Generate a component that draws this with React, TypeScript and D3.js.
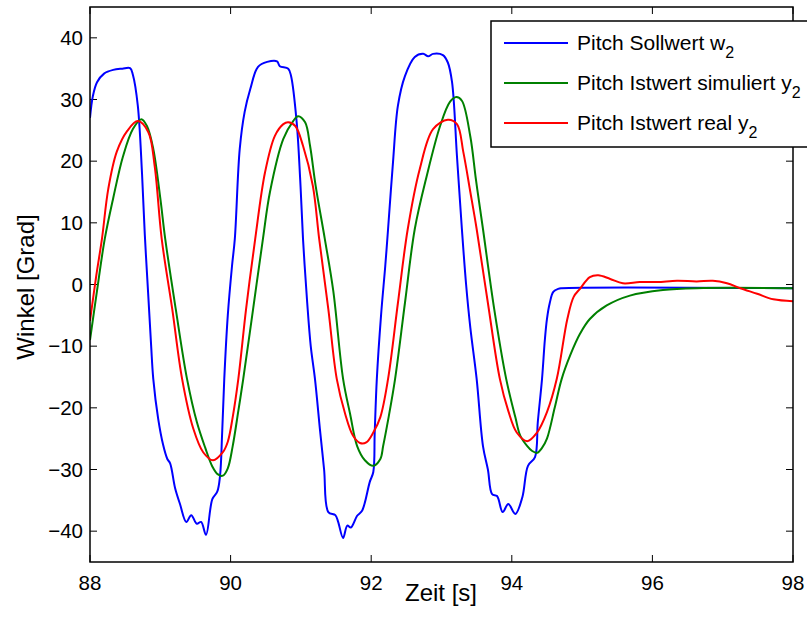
import React from "react";
import * as d3 from "d3";

// ---- data ----
const xTicks = [88, 90, 92, 94, 96, 98];
const yTicks = [-40, -30, -20, -10, 0, 10, 20, 30, 40];

const sollTime = [88.0, 88.04, 88.1, 88.2, 88.33, 88.46, 88.57, 88.61, 88.68, 88.74, 88.78, 88.83, 88.87, 88.9, 88.97, 89.04, 89.1, 89.14, 89.21, 89.28, 89.37, 89.44, 89.52, 89.58, 89.65, 89.74, 89.81, 89.85, 89.88, 89.91, 89.96, 90.02, 90.06, 90.13, 90.2, 90.28, 90.39, 90.52, 90.66, 90.7, 90.82, 90.86, 90.94, 90.99, 91.03, 91.09, 91.14, 91.2, 91.27, 91.33, 91.39, 91.49, 91.53, 91.6, 91.66, 91.71, 91.8, 91.87, 91.98, 92.03, 92.05, 92.08, 92.14, 92.2, 92.24, 92.31, 92.38, 92.48, 92.62, 92.74, 92.81, 92.88, 93.02, 93.09, 93.15, 93.22, 93.29, 93.35, 93.41, 93.5, 93.59, 93.66, 93.72, 93.79, 93.87, 93.95, 94.05, 94.15, 94.23, 94.33, 94.37, 94.43, 94.47, 94.5, 94.54, 94.59, 94.66, 94.71, 98.0];
const sollValue = [27, 30.5, 32.8, 34.2, 34.8, 35, 35.1, 34, 29, 18, 8, -2, -10, -15.3, -21.8, -26, -28.3, -29, -33, -35.6, -38.5, -37.4, -38.8, -38.5, -40.6, -34.8, -33.6, -31, -24, -15.3, -5, 3, 7.4, 22, 28, 31.7, 35.3, 36.1, 36.2, 35.4, 35, 33.8, 26.3, 17, 7.4, -3, -10, -15.3, -23.4, -30, -36.9, -37.4, -38.5, -41.1, -39.1, -39.4, -37.5, -36.7, -32, -30.4, -24, -15.3, -5, 3, 9, 19.8, 29, 33.8, 36.9, 37.4, 37, 37.4, 37.2, 36, 32.8, 20.8, 9, 0, -7, -15.3, -26.2, -30, -34, -34.3, -36.9, -35.6, -37.2, -34.5, -29.4, -28, -22.3, -15.3, -9, -5.6, -3, -1.2, -0.7, -0.6, -0.6];

const simTime = [88.0, 88.1, 88.21, 88.33, 88.47, 88.61, 88.73, 88.81, 88.9, 89.0, 89.07, 89.22, 89.38, 89.52, 89.64, 89.74, 89.82, 89.89, 89.96, 90.03, 90.11, 90.18, 90.32, 90.46, 90.56, 90.75, 90.89, 90.96, 91.06, 91.13, 91.21, 91.34, 91.46, 91.6, 91.7, 91.8, 91.91, 92.03, 92.13, 92.17, 92.24, 92.34, 92.48, 92.62, 92.79, 92.98, 93.12, 93.21, 93.29, 93.41, 93.49, 93.59, 93.75, 93.92, 94.05, 94.12, 94.22, 94.29, 94.36, 94.43, 94.5, 94.61, 94.71, 94.83, 94.97, 95.11, 95.35, 95.68, 96.15, 96.63, 98.0];
const simValue = [-9, -1, 7.4, 14, 20.8, 25.2, 26.8, 25.7, 22, 14, 7.4, -4, -15.3, -22.3, -26.5, -29.5, -30.8, -31, -29.8, -26.2, -20.5, -15.3, -4, 7.4, 15, 23.6, 26.5, 27.3, 26.3, 22.5, 16, 7.4, -1, -15.3, -21, -26.2, -28.5, -29.4, -28.3, -26.2, -22, -15.3, -3, 9, 17.6, 25.7, 29.6, 30.4, 29.8, 24, 17, 9, -4, -15.3, -21.5, -24.5, -26.2, -27, -27.3, -26.5, -25, -20, -15.3, -11.5, -8, -5.6, -3.4, -1.8, -0.9, -0.6, -0.6];

const realTime = [88.0, 88.09, 88.17, 88.26, 88.38, 88.53, 88.68, 88.83, 88.92, 89.02, 89.17, 89.31, 89.47, 89.61, 89.75, 89.89, 89.96, 90.03, 90.11, 90.22, 90.35, 90.49, 90.63, 90.75, 90.82, 90.92, 91.03, 91.17, 91.26, 91.39, 91.51, 91.63, 91.74, 91.84, 91.93, 92.03, 92.13, 92.24, 92.38, 92.52, 92.69, 92.88, 93.09, 93.22, 93.31, 93.41, 93.5, 93.66, 93.83, 93.95, 94.07, 94.22, 94.36, 94.5, 94.64, 94.79, 94.88, 94.97, 95.11, 95.23, 95.4, 95.58, 95.82, 96.07, 96.35, 96.63, 96.86, 97.06, 97.25, 97.49, 97.72, 98.0];
const realValue = [-5.9, 1.5, 7.4, 15.5, 21.5, 24.9, 26.5, 24.7, 19.2, 7.4, -4, -15.3, -23.4, -27.2, -28.5, -27.2, -25.5, -21.5, -15.3, -4, 7.4, 18.2, 24.1, 26, 26.3, 25.7, 22.5, 16, 7.4, -4, -15.3, -21, -24.5, -25.7, -25.6, -24, -21.5, -15.3, -3, 9, 18.7, 25.2, 26.7, 26, 21.5, 15, 9, -3, -15.3, -20.5, -24, -25.4, -24, -20.7, -15.3, -5.6, -2, -0.7, 1.2, 1.5, 0.9, 0.2, 0.4, 0.4, 0.6, 0.5, 0.6, 0.2, -0.6, -1.5, -2.4, -2.7];

const seriesNames = ["Pitch Sollwert w", "Pitch Istwert simuliert y", "Pitch Istwert real y"];
const seriesColors = ["#0000ff", "#008000", "#ff0000"];

const W = 807;
const H = 624;
const left = 90;
const right = 793;
const top = 7;
const bottom = 562;

export default function App() {
  const x = d3.scaleLinear().domain([88, 98]).range([left, right]);
  const y = d3.scaleLinear().domain([-45, 45]).range([bottom, top]);

  const series = [
    { t: sollTime, v: sollValue },
    { t: simTime, v: simValue },
    { t: realTime, v: realValue },
  ];

  const line = d3
    .line<[number, number]>()
    .x((d) => x(d[0]))
    .y((d) => y(d[1]))
    .curve(d3.curveCatmullRom.alpha(0.5));

  const font = "'Liberation Sans', Arial, Helvetica, sans-serif";
  const tickLen = 7;

  return (
    <svg
      width={W}
      height={H}
      style={{ position: "absolute", left: 0, top: 0, background: "#fff" }}
      fontFamily={font}
    >
      <defs>
        <clipPath id="plotClip">
          <rect x={left} y={top} width={right - left} height={bottom - top} />
        </clipPath>
      </defs>
      <rect x={0} y={0} width={W} height={H} fill="#fff" />

      {/* ticks */}
      {xTicks.map((t) => (
        <g key={"xt" + t}>
          <line x1={x(t)} x2={x(t)} y1={bottom} y2={bottom - tickLen} stroke="#000" strokeWidth={1} />
          <line x1={x(t)} x2={x(t)} y1={top} y2={top + tickLen} stroke="#000" strokeWidth={1} />
          <text x={x(t)} y={590} fontSize={20.5} textAnchor="middle" fill="#000">
            {t}
          </text>
        </g>
      ))}
      {yTicks.map((v) => (
        <g key={"yt" + v}>
          <line x1={left} x2={left + tickLen} y1={y(v)} y2={y(v)} stroke="#000" strokeWidth={1} />
          <line x1={right} x2={right - tickLen} y1={y(v)} y2={y(v)} stroke="#000" strokeWidth={1} />
          <text x={83} y={y(v) + 7} fontSize={20.5} textAnchor="end" fill="#000">
            {v < 0 ? "\u2212" + Math.abs(v) : v}
          </text>
        </g>
      ))}

      {/* series */}
      <g clipPath="url(#plotClip)">
        {series.map((s, i) => (
          <path
            key={"s" + i}
            d={line(s.t.map((t, j) => [t, s.v[j]] as [number, number])) || ""}
            fill="none"
            stroke={seriesColors[i]}
            strokeWidth={2}
            strokeLinejoin="round"
          />
        ))}
      </g>

      {/* frame */}
      <rect x={left} y={top} width={right - left} height={bottom - top} fill="none" stroke="#000" strokeWidth={1.5} />

      {/* axis labels */}
      <text x={441} y={601} fontSize={24} textAnchor="middle" fill="#000">
        Zeit [s]
      </text>
      <text
        transform={`translate(34,287) rotate(-90)`}
        fontSize={24}
        textAnchor="middle"
        fill="#000"
      >
        Winkel [Grad]
      </text>

      {/* legend */}
      <rect x={491} y={21} width={340} height={126} fill="#fff" stroke="#000" strokeWidth={1.5} />
      {seriesNames.map((name, i) => {
        const ly = 43 + i * 40;
        return (
          <g key={"lg" + i}>
            <line x1={504} x2={568} y1={ly} y2={ly} stroke={seriesColors[i]} strokeWidth={2} />
            <text x={577} y={ly + 7} fontSize={21} fill="#000">
              {name}
              <tspan dy={8} fontSize={16}>
                2
              </tspan>
            </text>
          </g>
        );
      })}
    </svg>
  );
}
